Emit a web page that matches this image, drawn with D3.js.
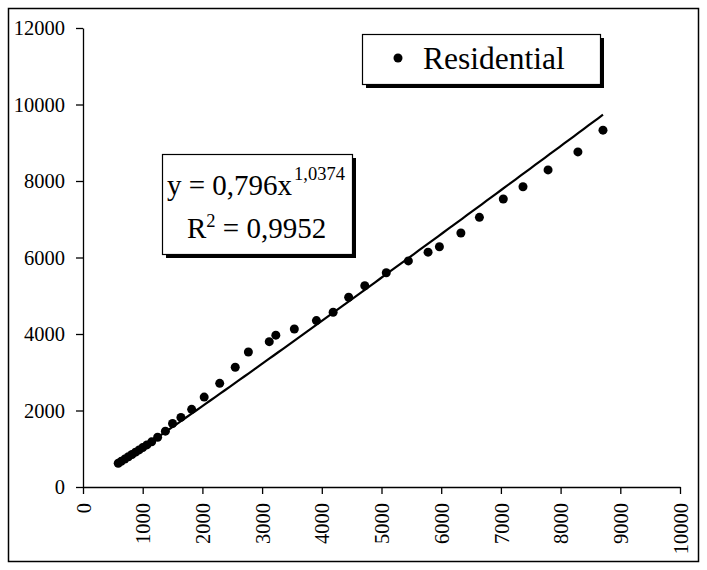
<!DOCTYPE html>
<html>
<head>
<meta charset="utf-8">
<script src="https://cdn.jsdelivr.net/npm/d3@7"></script>
<style>
  html, body { margin: 0; padding: 0; background: #fff; }
  svg { display: block; }
  text { font-family: "Liberation Serif", "Times New Roman", serif; fill: #000; }
</style>
</head>
<body>
<svg id="chart" width="707" height="570"></svg>
<script>
// ---- data ----
const xValues = [590, 640, 700, 760, 820, 880, 940, 1000, 1070, 1150, 1250, 1380, 1500, 1640, 1820, 2030, 2290, 2550, 2770, 3120, 3230, 3540, 3910, 4190, 4450, 4720, 5080, 5450, 5780, 5970, 6330, 6640, 7040, 7370, 7790, 8290, 8710];
const yValues = [620, 670, 730, 790, 850, 910, 970, 1030, 1100, 1180, 1300, 1460, 1660, 1820, 2030, 2350, 2710, 3130, 3530, 3800, 3970, 4130, 4350, 4570, 4960, 5260, 5600, 5910, 6140, 6280, 6640, 7050, 7530, 7850, 8290, 8760, 9330];
const xTicks = [0, 1000, 2000, 3000, 4000, 5000, 6000, 7000, 8000, 9000, 10000];
const yTicks = [0, 2000, 4000, 6000, 8000, 10000, 12000];
const seriesName = "Residential";
const coefA = 0.796;
const coefB = 1.0374;
const eqText = "y = 0,796x";
const eqExp = "1,0374";
const r2Label = "R";
const r2Exp = "2";
const r2Text = " = 0,9952";

const svg = d3.select("#chart");

// outer border
svg.append("rect").attr("x", 8.5).attr("y", 8.5).attr("width", 690).attr("height", 553)
  .attr("fill", "#fff").attr("stroke", "#000").attr("stroke-width", 1.5);

const x = d3.scaleLinear().domain([0, 10000]).range([83, 680]);
const y = d3.scaleLinear().domain([0, 12000]).range([487, 28]);

// y axis
const yAxis = svg.append("g").attr("transform", `translate(${x(0)},0)`)
  .call(d3.axisLeft(y).tickValues(yTicks).tickSize(7).tickSizeOuter(0).tickPadding(11).tickFormat(d3.format("d")));
yAxis.select(".domain").attr("stroke", "#000").attr("stroke-width", 1.3);
yAxis.selectAll(".tick line").attr("stroke", "#000").attr("stroke-width", 1.3);
yAxis.selectAll(".tick text").attr("font-family", "Liberation Serif").attr("font-size", 20.5).attr("fill", "#000");

// x axis
const xAxis = svg.append("g").attr("transform", `translate(0,${y(0)})`)
  .call(d3.axisBottom(x).tickValues(xTicks).tickSize(7).tickSizeOuter(0).tickFormat(d3.format("d")));
xAxis.select(".domain").attr("stroke", "#000").attr("stroke-width", 1.3);
xAxis.selectAll(".tick line").attr("stroke", "#000").attr("stroke-width", 1.3);
xAxis.selectAll(".tick text")
  .attr("font-family", "Liberation Serif").attr("font-size", 20.5).attr("fill", "#000")
  .attr("transform", "rotate(-90)")
  .attr("text-anchor", "end")
  .attr("x", -16).attr("y", 0).attr("dy", "0.35em");

// trendline
const xMin = d3.min(xValues), xMax = d3.max(xValues);
const trend = d3.range(0, 101).map(i => {
  const xv = xMin + (xMax - xMin) * i / 100;
  return [xv, coefA * Math.pow(xv, coefB)];
});
svg.append("path").datum(trend)
  .attr("fill", "none").attr("stroke", "#000").attr("stroke-width", 2.2)
  .attr("d", d3.line().x(d => x(d[0])).y(d => y(d[1])));

// points
svg.append("g").selectAll("circle").data(xValues.map((v, i) => [v, yValues[i]]))
  .join("circle")
  .attr("cx", d => x(d[0])).attr("cy", d => y(d[1])).attr("r", 4.5).attr("fill", "#000");

// legend
const lg = svg.append("g");
lg.append("rect").attr("x", 366).attr("y", 38).attr("width", 238).attr("height", 50).attr("fill", "#000");
lg.append("rect").attr("x", 362.5).attr("y", 34.5).attr("width", 238).attr("height", 50)
  .attr("fill", "#fff").attr("stroke", "#000").attr("stroke-width", 1.2);
lg.append("circle").attr("cx", 398).attr("cy", 58).attr("r", 4.5).attr("fill", "#000");
lg.append("text").attr("x", 423).attr("y", 69).attr("font-size", 31.5).text(seriesName);

// equation box
const eb = svg.append("g");
eb.append("rect").attr("x", 166).attr("y", 158).attr("width", 190).attr("height", 100).attr("fill", "#000");
eb.append("rect").attr("x", 162.5).attr("y", 154.5).attr("width", 190).attr("height", 100)
  .attr("fill", "#fff").attr("stroke", "#000").attr("stroke-width", 1.2);
eb.append("text").attr("x", 167).attr("y", 195).attr("font-size", 29).text(eqText);
eb.append("text").attr("x", 294).attr("y", 180).attr("font-size", 18.5).text(eqExp);
const r2 = eb.append("text").attr("x", 187).attr("y", 238).attr("font-size", 29).attr("xml:space", "preserve");
r2.append("tspan").text(r2Label);
r2.append("tspan").attr("font-size", 18.5).attr("dy", -11).text(r2Exp);
r2.append("tspan").attr("dy", 11).text(r2Text);
</script>
</body>
</html>
